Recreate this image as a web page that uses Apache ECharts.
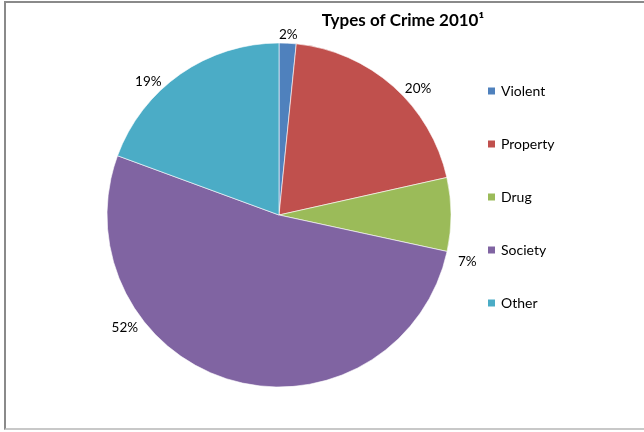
<!DOCTYPE html>
<html>
<head>
<meta charset="utf-8">
<script src="https://cdn.jsdelivr.net/npm/echarts@6/dist/echarts.min.js"></script>
<style>
html,body{margin:0;padding:0;background:#fff;}
#frame{position:absolute;left:4px;top:1px;width:650px;height:429px;border-left:2px solid #8a8a8a;border-top:2px solid #8a8a8a;border-bottom:2px solid #c8c8c8;box-sizing:border-box;}
#chart{position:absolute;left:0;top:0;width:644px;height:432px;}
</style>
</head>
<body>
<div id="frame"></div>
<div id="chart"></div>
<script>
const categories = ['Violent', 'Property', 'Drug', 'Society', 'Other'];
const values = [1.6, 19.9, 6.9, 52.2, 19.4];
const colors = ['#4F81BD', '#C0504D', '#9BBB59', '#8064A2', '#4BACC6'];
const titleText = 'Types of Crime 2010¹';

const chart = echarts.init(document.getElementById('chart'), null, {renderer: 'canvas'});
const font = 'Lato, "Open Sans", sans-serif';
const labelOffsets = [[-14, -2], [2, 8], [-5, 47], [-86, -59], [-10, 13]];

chart.setOption({
  backgroundColor: 'transparent',
  animation: false,
  color: colors,
  title: {
    text: titleText,
    left: 398,
    textAlign: 'center',
    top: 7,
    textStyle: {fontFamily: font, fontWeight: 'bold', fontSize: 17, color: '#000'}
  },
  legend: {
    orient: 'vertical',
    left: 481,
    top: 79,
    itemWidth: 9,
    itemHeight: 9,
    itemGap: 39,
    icon: 'rect',
    textStyle: {fontFamily: font, fontSize: 14, color: '#000'},
    data: categories
  },
  series: [{
    type: 'pie',
    center: [279, 215],
    radius: [0, 172],
    startAngle: 90,
    clockwise: true,
    avoidLabelOverlap: false,
    itemStyle: {borderColor: '#fff', borderWidth: 0.6},
    label: {
      show: true,
      position: 'outside',
      fontFamily: font,
      fontSize: 13.5,
      color: '#000',
      formatter: p => Math.round(p.value) + '%'
    },
    labelLine: {show: false, length: 7, length2: 0},
    data: categories.map((c, i) => ({
      name: c,
      value: values[i],
      label: {offset: labelOffsets[i]}
    }))
  }]
});
</script>
</body>
</html>
